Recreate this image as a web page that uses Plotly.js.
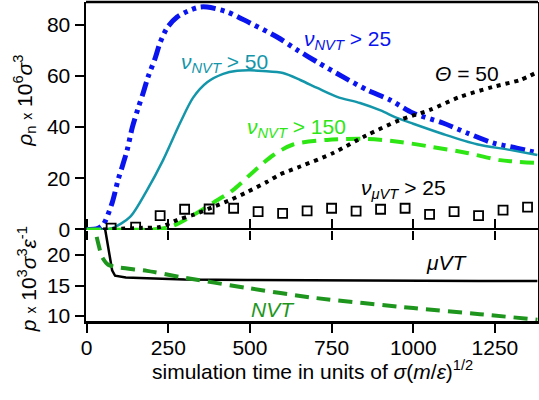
<!DOCTYPE html>
<html>
<head>
<meta charset="utf-8">
<script src="https://cdn.plot.ly/plotly-3.0.1.min.js"></script>
<style>html,body{margin:0;padding:0;background:#fff;}#chart{width:539px;height:400px;}</style>
</head>
<body>
<div id="chart"></div>
<script>
// ---- top panel: rho_n x 10^6 sigma^3 vs simulation time ----
const nvt25X = [0, 30, 50, 78, 96, 110, 124, 140, 158, 173, 188, 210, 225, 246, 277, 317, 347, 369, 430, 500, 583, 645, 706, 785, 859, 929, 999, 1091, 1165, 1244, 1317, 1380];
const nvt25Y = [0, 0.2, 1.8, 10.4, 19.3, 25, 31, 40, 47.5, 53.3, 59.6, 67, 73, 78.7, 83, 85.7, 86.9, 86.9, 85, 80.7, 75.2, 70.1, 65.4, 59.6, 54.5, 50.6, 45.5, 41.6, 37.7, 33.8, 31.8, 29.9];

const nvt50X = [0, 60, 81, 133, 185, 234, 286, 326, 369, 418, 461, 500, 540, 601, 654, 706, 767, 837, 900, 950, 1000, 1091, 1195, 1296, 1380];
const nvt50Y = [0, 0, 0.6, 4.9, 15.4, 27.1, 41.6, 51.5, 57.5, 60.8, 62.0, 62.2, 61.9, 61.1, 58.4, 55.3, 51.8, 49.4, 46.5, 43.6, 41.3, 37.3, 33.3, 31.1, 29.1];

const nvt150X = [0, 60, 200, 256, 317, 387, 448, 510, 571, 632, 736, 859, 960, 1060, 1165, 1266, 1380];
const nvt150Y = [0, 0, 0, 1, 4.9, 10.4, 15.4, 22.5, 29, 33.2, 35, 35.4, 34.2, 32.2, 29.9, 27.1, 26];

const theta50X = [50, 164, 225, 277, 326, 387, 439, 491, 552, 592, 654, 755, 859, 960, 1051, 1143, 1244, 1327, 1380];
const theta50Y = [0, 0.6, 1, 3.7, 5.7, 8.8, 11.5, 14.6, 18.6, 21.5, 24.6, 29.9, 36.9, 42.8, 46.7, 51.8, 55.7, 58.4, 61.5];

const muvt25X = [75, 150, 225, 300, 375, 450, 525, 600, 675, 750, 825, 900, 975, 1050, 1125, 1200, 1275, 1350];
const muvt25Y = [0.5, 0.9, 5.4, 7.9, 8.0, 8.3, 7.0, 6.3, 7.3, 8.3, 7.2, 7.9, 8.3, 5.9, 7.0, 5.4, 7.6, 8.7];

// ---- bottom panel: p x 10^3 sigma^3 eps^-1 ----
const pMuvtX = [50, 57, 78, 87, 120, 185, 300, 491, 750, 1000, 1200, 1380];
const pMuvtY = [26.3, 24.1, 17.5, 16.6, 16.3, 16.2, 16.0, 15.9, 15.8, 15.75, 15.75, 15.75];

const pNvtX = [0, 26, 35, 47, 66, 93, 185, 286, 491, 693, 1000, 1204, 1380];
const pNvtY = [30, 24.1, 22, 19.7, 18.4, 18.0, 17.4, 16.4, 14.6, 13.0, 11.3, 10.3, 9.4];

const xTicks = [0, 250, 500, 750, 1000, 1250];
const topTicks = [0, 20, 40, 60, 80];
const botTicks = [10, 15, 20];

const FONT = 'Liberation Sans, Arial, sans-serif';
const BLUE = '#0a14ee', TEAL = '#1496aa', LIME = '#2ee614', DGREEN = '#1e961e';
const SM = 0.8;

const traces = [
  {x: nvt25X, y: nvt25Y, xaxis: 'x2', yaxis: 'y2', mode: 'lines',
   line: {color: BLUE, width: 5, dash: '15px,5px,4px,5px,4px,5px', shape: 'spline', smoothing: SM}},
  {x: nvt50X, y: nvt50Y, xaxis: 'x2', yaxis: 'y2', mode: 'lines',
   line: {color: TEAL, width: 2.5, shape: 'spline', smoothing: SM}},
  {x: nvt150X, y: nvt150Y, xaxis: 'x2', yaxis: 'y2', mode: 'lines',
   line: {color: LIME, width: 4, dash: '14px,8px', shape: 'spline', smoothing: SM}},
  {x: theta50X, y: theta50Y, xaxis: 'x2', yaxis: 'y2', mode: 'lines',
   line: {color: '#000', width: 4, dash: '4px,5px', shape: 'spline', smoothing: SM}},
  {x: muvt25X, y: muvt25Y, xaxis: 'x2', yaxis: 'y2', mode: 'markers',
   marker: {symbol: 'square-open', size: 9, color: '#000', line: {width: 1.8, color: '#000'}}},
  {x: pMuvtX, y: pMuvtY, xaxis: 'x', yaxis: 'y', mode: 'lines',
   line: {color: '#000', width: 2.5}},
  {x: pNvtX, y: pNvtY, xaxis: 'x', yaxis: 'y', mode: 'lines',
   line: {color: DGREEN, width: 4, dash: '14px,8px', shape: 'spline', smoothing: 0.6}}
];

const split = 91 / 319;
const axisCommon = {showgrid: false, zeroline: false, showline: true, linecolor: '#000', linewidth: 2.5,
  tickcolor: '#000', tickwidth: 2, ticklen: 9, tickfont: {family: FONT, size: 21, color: '#000'}};

const layout = {
  width: 539, height: 400,
  margin: {l: 86, r: 1, t: 2, b: 79},
  paper_bgcolor: '#fff', plot_bgcolor: '#fff',
  showlegend: false,
  font: {family: FONT, size: 21, color: '#000'},
  xaxis: Object.assign({}, axisCommon, {domain: [0, 1], anchor: 'y', range: [-2, 1382],
    tickvals: xTicks, ticktext: xTicks.map(String), ticks: 'outside', mirror: 'ticks',
    ticklabelstandoff: -3}),
  yaxis: Object.assign({}, axisCommon, {domain: [0, split], anchor: 'x', range: [9.18, 24.1],
    tickvals: botTicks, ticktext: botTicks.map(String), ticks: 'outside', mirror: true}),
  xaxis2: Object.assign({}, axisCommon, {domain: [0, 1], anchor: 'y2', range: [-2, 1382], matches: 'x',
    tickvals: xTicks, showticklabels: false, ticks: 'outside', showline: false}),
  yaxis2: Object.assign({}, axisCommon, {domain: [split, 1], anchor: 'x2', range: [-0.2, 88.86],
    tickvals: topTicks, ticktext: topTicks.map(String), ticks: 'outside', mirror: true}),
  shapes: [
    {type: 'line', xref: 'paper', yref: 'paper', x0: 0, x1: 1, y0: 1, y1: 1,
     line: {color: '#000', width: 2.5}}
  ],
  annotations: [
    {xref: 'paper', yref: 'paper', x: 0.5, y: -0.106, xanchor: 'center', yanchor: 'top',
     showarrow: false,
     text: 'simulation time in units of <i>σ</i>(<i>m</i>/<i>ε</i>)<sup>1/2</sup>',
     font: {family: FONT, size: 21, color: '#000'}},
    {xref: 'paper', yref: 'paper', x: -0.135, y: 0.69, xanchor: 'center', yanchor: 'middle',
     textangle: -90, showarrow: false,
     text: '<i>ρ</i><sub>n</sub> <span style="font-size:14px">x</span> 10<sup>6</sup><i>σ</i><sup>3</sup>',
     font: {family: FONT, size: 21, color: '#000'}},
    {xref: 'paper', yref: 'paper', x: -0.13, y: 0.132, xanchor: 'center', yanchor: 'middle',
     textangle: -90, showarrow: false,
     text: '<i>p</i> <span style="font-size:14px">x</span> 10<sup>3</sup><i>σ</i><sup>3</sup><i>ε</i><sup>-1</sup>',
     font: {family: FONT, size: 21, color: '#000'}},
    {xref: 'x2', yref: 'y2', x: 800, y: 74, showarrow: false,
     text: '<i>ν</i><sub><i>NVT</i></sub> > 25', font: {family: FONT, size: 21, color: BLUE}},
    {xref: 'x2', yref: 'y2', x: 421, y: 65, showarrow: false,
     text: '<i>ν</i><sub><i>NVT</i></sub> > 50', font: {family: FONT, size: 21, color: TEAL}},
    {xref: 'x2', yref: 'y2', x: 641, y: 39.6, showarrow: false,
     text: '<i>ν</i><sub><i>NVT</i></sub> > 150', font: {family: FONT, size: 21, color: LIME}},
    {xref: 'x2', yref: 'y2', x: 1165, y: 61, showarrow: false,
     text: '<i>Θ</i> = 50', font: {family: FONT, size: 21, color: '#000'}},
    {xref: 'x2', yref: 'y2', x: 969, y: 15.8, showarrow: false,
     text: '<i>ν</i><sub><i>μVT</i></sub> > 25', font: {family: FONT, size: 21, color: '#000'}},
    {xref: 'x', yref: 'y', x: 1104, y: 18.85, showarrow: false,
     text: '<i>μVT</i>', font: {family: FONT, size: 21, color: '#000'}},
    {xref: 'x', yref: 'y', x: 571, y: 11.0, showarrow: false,
     text: '<i>NVT</i>', font: {family: FONT, size: 21, color: DGREEN}}
  ]
};

Plotly.newPlot('chart', traces, layout, {displayModeBar: false, staticPlot: true});
</script>
</body>
</html>
